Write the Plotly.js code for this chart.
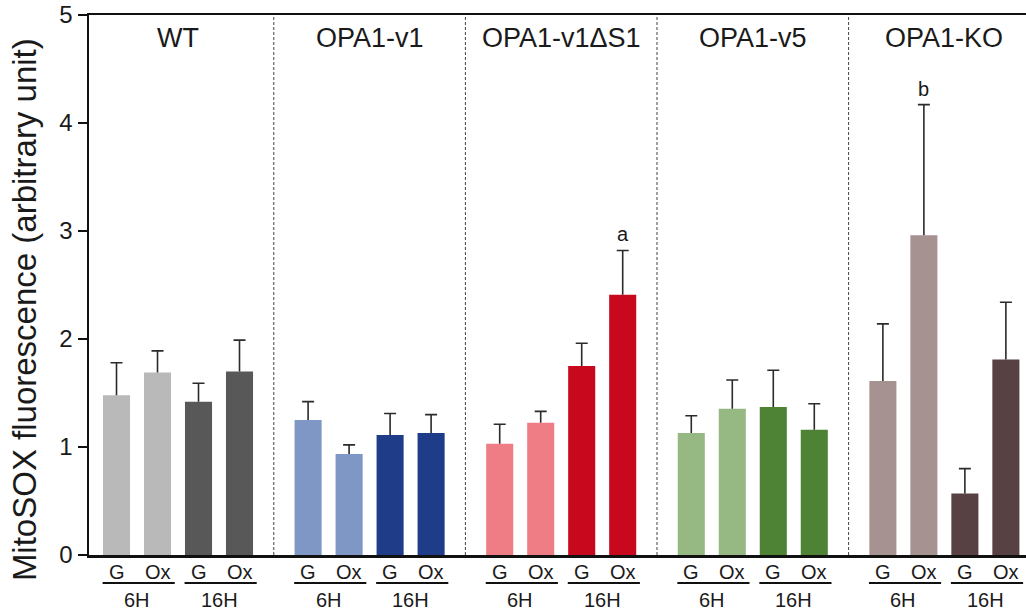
<!DOCTYPE html>
<html>
<head>
<meta charset="utf-8">
<script src="https://cdn.plot.ly/plotly-3.0.1.min.js"></script>
<style>html,body{margin:0;padding:0;background:#fff;}#chart{width:1026px;height:613px;}</style>
</head>
<body>
<div id="chart"></div>
<script>
// ---- data ----
const groups = ['WT', 'OPA1-v1', 'OPA1-v1ΔS1', 'OPA1-v5', 'OPA1-KO'];
const treatments = ['G', 'Ox', 'G', 'Ox'];
const times = ['6H', '16H'];

const meanWT   = [1.48, 1.69, 1.42, 1.70];
const sdWT     = [0.30, 0.20, 0.17, 0.29];
const meanV1   = [1.25, 0.935, 1.11, 1.13];
const sdV1     = [0.17, 0.085, 0.20, 0.17];
const meanDS1  = [1.03, 1.225, 1.75, 2.41];
const sdDS1    = [0.18, 0.105, 0.21, 0.41];
const meanV5   = [1.13, 1.355, 1.37, 1.16];
const sdV5     = [0.16, 0.265, 0.34, 0.24];
const meanKO   = [1.61, 2.96, 0.57, 1.81];
const sdKO     = [0.53, 1.21, 0.23, 0.53];

const sigLetters = [null, null, {bar: 3, text: 'a'}, null, {bar: 1, text: 'b'}];
const yTitle = 'MitoSOX fluorescence (arbitrary unit)';

// ---- styling ----
const lightColors = ['#b9b9b9', '#7f97c5', '#ef7d86', '#96b882', '#a69290'];
const darkColors  = ['#585858', '#1f3c88', '#c8081c', '#4e8234', '#574143'];

const means = [meanWT, meanV1, meanDS1, meanV5, meanKO];
const sds = [sdWT, sdV1, sdDS1, sdV5, sdKO];

const PANEL = 4.673;     // panel spacing in bar units
const FONT = 'Liberation Sans, Arial, Helvetica, sans-serif';
const xpos = (p, j) => p * PANEL + j;

const traces = groups.map((g, p) => ({
  type: 'bar',
  name: g,
  x: treatments.map((_, j) => xpos(p, j)),
  y: means[p],
  width: 0.66,
  marker: {color: [lightColors[p], lightColors[p], darkColors[p], darkColors[p]], line: {width: 0}},
  error_y: {type: 'data', array: sds[p], symmetric: false, arrayminus: [0,0,0,0],
            color: '#2b2b2b', thickness: 1.6, width: 6},
  showlegend: false,
  hoverinfo: 'y'
}));

const shapes = [];
const annotations = [];

for (let p = 0; p < groups.length - 1; p++) {
  const xd = xpos(p, 3) + (PANEL - 3) / 2;
  shapes.push({type: 'line', xref: 'x', yref: 'y', x0: xd, x1: xd, y0: 0, y1: 5,
               line: {color: '#444', width: 1, dash: '3px,2px'}});
}

groups.forEach((g, p) => {
  annotations.push({xref: 'x', yref: 'paper', x: xpos(p, 1.5), y: 0.957, text: g,
    showarrow: false, xanchor: 'center', yanchor: 'middle',
    font: {family: FONT, size: 27, color: '#1a1a1a'}});
  treatments.forEach((t, j) => {
    annotations.push({xref: 'x', yref: 'paper', x: xpos(p, j), y: -0.032, text: t,
      showarrow: false, xanchor: 'center', yanchor: 'middle',
      font: {family: FONT, size: 20, color: '#1a1a1a'}});
  });
  times.forEach((tm, k) => {
    annotations.push({xref: 'x', yref: 'paper', x: xpos(p, 2 * k + 0.5), y: -0.083, text: tm,
      showarrow: false, xanchor: 'center', yanchor: 'middle',
      font: {family: FONT, size: 20, color: '#1a1a1a'}});
    shapes.push({type: 'line', xref: 'x', yref: 'paper',
      x0: xpos(p, 2 * k) - 0.34, x1: xpos(p, 2 * k + 1) + 0.42, y0: -0.052, y1: -0.052,
      line: {color: '#111', width: 2}});
  });
  const s = sigLetters[p];
  if (s) {
    annotations.push({xref: 'x', yref: 'y', x: xpos(p, s.bar), y: means[p][s.bar] + sds[p][s.bar],
      text: s.text, showarrow: false, xanchor: 'center', yanchor: 'bottom', yshift: 3,
      font: {family: FONT, size: 20, color: '#1a1a1a'}});
  }
});

// y axis title placed as rotated annotation
annotations.push({xref: 'paper', yref: 'paper', x: -0.068, y: 0.454, text: yTitle,
  textangle: -90, showarrow: false, xanchor: 'center', yanchor: 'middle',
  font: {family: FONT, size: 33, color: '#1a1a1a'}});

const layout = {
  width: 1026, height: 613,
  margin: {l: 89, r: 0, t: 15, b: 58, pad: 0},
  paper_bgcolor: '#fff', plot_bgcolor: '#fff',
  font: {family: FONT, color: '#1a1a1a'},
  barmode: 'overlay',
  xaxis: {range: [-0.671, -0.671 + 937 / 41], showgrid: false, zeroline: false,
          showticklabels: false, ticks: '', showline: true, mirror: true,
          linecolor: '#111', linewidth: 2.5, fixedrange: true},
  yaxis: {range: [0, 5], tickvals: [0, 1, 2, 3, 4, 5], showgrid: false, zeroline: false,
          ticks: 'outside', ticklen: 9, tickwidth: 2, tickcolor: '#111',
          showline: true, linecolor: '#111', linewidth: 2.5,
          tickfont: {family: FONT, size: 24, color: '#1a1a1a'},
          automargin: false, fixedrange: true},
  shapes: shapes,
  annotations: annotations
};

Plotly.newPlot('chart', traces, layout, {displayModeBar: false, staticPlot: true}).then(gd => {
  // remove the lower cap ("shoe") of the one-sided error bars
  gd.querySelectorAll('g.errorbar path').forEach(el => {
    const d = el.getAttribute('d');
    if (d) el.setAttribute('d', d.replace(/m-?[\d.]+,0h[\d.]+$/, ''));
  });
});
</script>
</body>
</html>
